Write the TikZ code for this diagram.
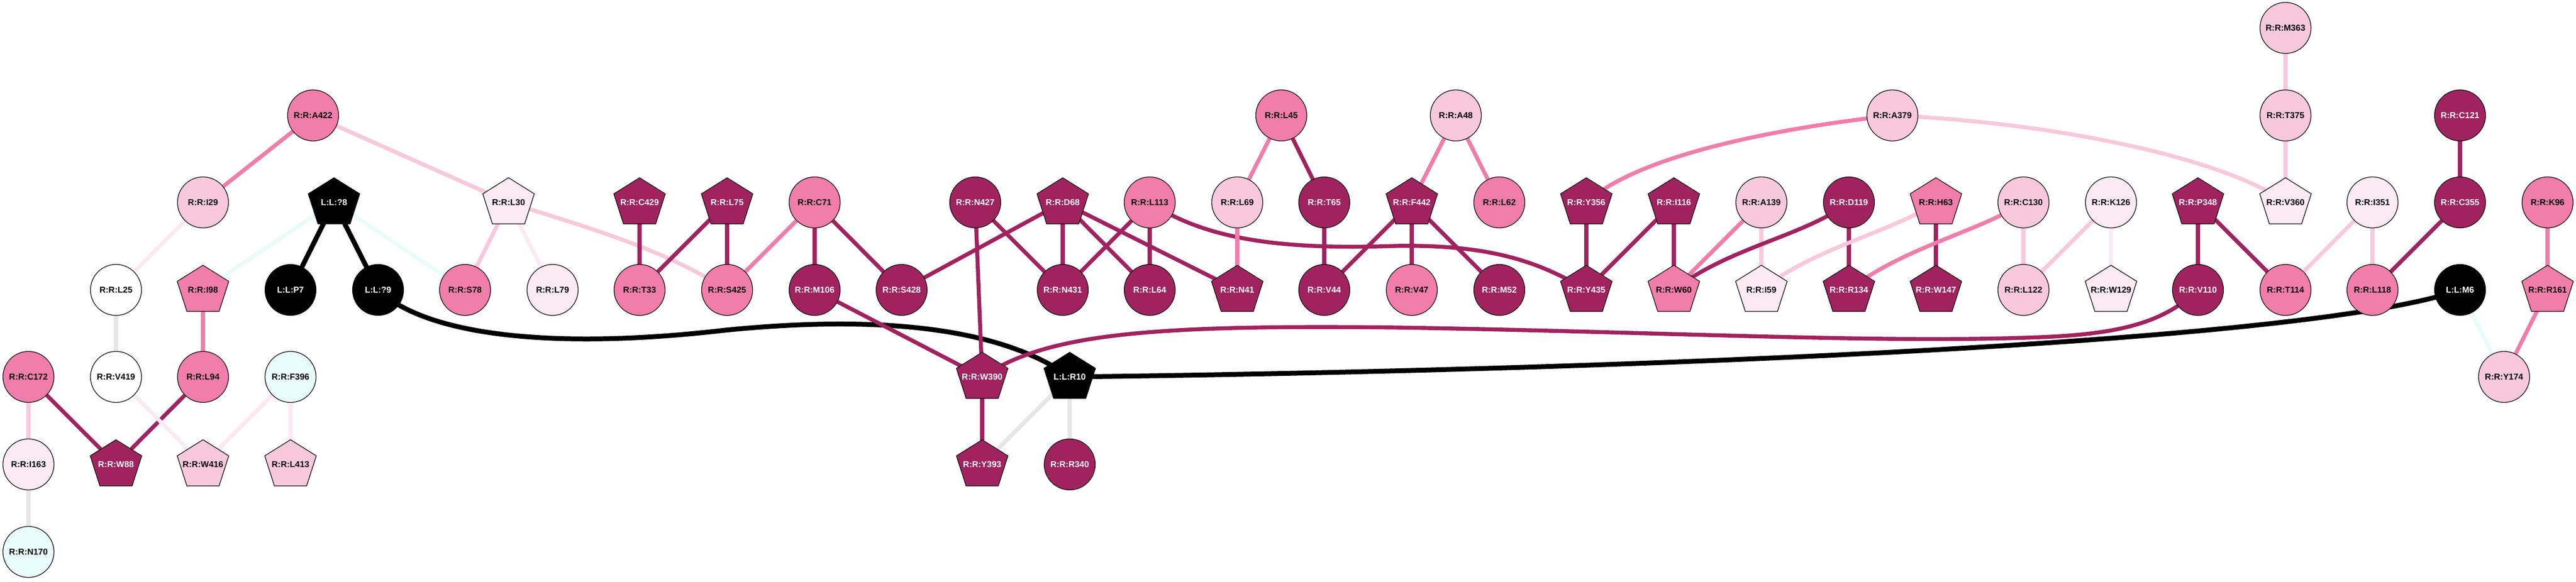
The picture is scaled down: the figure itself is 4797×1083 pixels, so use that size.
\documentclass[tikz,border=0pt]{standalone}
\usepackage{fontspec}
\setmainfont{Liberation Sans}
\pgfdeclarelayer{bk}
\pgfdeclarelayer{bg}
\pgfsetlayers{bk,bg,main}
\definecolor{cdark}{HTML}{A0235F}
\definecolor{cmed}{HTML}{F07DAA}
\definecolor{clight}{HTML}{F8C8DC}
\definecolor{cvlight}{HTML}{FBEAF2}
\definecolor{ccyan}{HTML}{E8FCFC}
\definecolor{cgrey}{HTML}{E6E6E6}
\tikzset{
  lblfont/.style={font=\bfseries\fontsize{8}{9}\selectfont},
  cnode/.style={circle, draw=black, line width=0.6pt, minimum size=47.5pt, inner sep=0pt, lblfont},
  plbl/.style={inner sep=0pt, lblfont},
  ebase/.style={line width=3.7pt},
  edk/.style={ebase, draw=cdark},
  emd/.style={ebase, draw=cmed},
  elt/.style={ebase, draw=clight},
  evl/.style={ebase, draw=cvlight},
  ecy/.style={ebase, draw=ccyan},
  egr/.style={ebase, draw=cgrey},
  ebk/.style={line width=4.5pt, draw=black},
}
\newcommand{\cnd}[6]{\node[cnode, fill=#4, text=#5] (#1) at (#2,#3) {#6};}
\newcommand{\pnd}[6]{\filldraw[shift={(#2,#3)}, fill=#4, draw=black, line width=0.6pt] (0,-46) -- (48,-16) -- (30,40) -- (-30,40) -- (-48,-16) -- cycle;
  \node[plbl, text=#5] (#1) at (#2,#3) {#6};}
\begin{document}
\begin{tikzpicture}[x=0.5pt, y=-0.5pt]
\begin{pgfonlayer}{bk}
\fill[white] (0,0) rectangle (4797,1083);
\end{pgfonlayer}
\useasboundingbox (0,0) rectangle (4797,1083);
% row 1
\cnd{M363}{4256}{52}{clight}{black}{R:R:M363}
% row 2
\cnd{A422}{583}{215}{cmed}{black}{R:R:A422}
\cnd{L45}{2386}{215}{cmed}{black}{R:R:L45}
\cnd{A48}{2711}{215}{clight}{black}{R:R:A48}
\cnd{A379}{3524}{215}{clight}{black}{R:R:A379}
\cnd{T375}{4256}{215}{clight}{black}{R:R:T375}
\cnd{C121}{4581}{215}{cdark}{white}{R:R:C121}
% row 3
\cnd{I29}{378}{377}{clight}{black}{R:R:I29}
\pnd{q8}{622}{377}{black}{white}{L:L:?8}
\pnd{L30}{947}{377}{cvlight}{black}{R:R:L30}
\pnd{C429}{1191}{377}{cdark}{white}{R:R:C429}
\pnd{L75}{1354}{377}{cdark}{white}{R:R:L75}
\cnd{C71}{1517}{377}{cmed}{black}{R:R:C71}
\cnd{N427}{1816}{377}{cdark}{white}{R:R:N427}
\pnd{D68}{1979}{377}{cdark}{white}{R:R:D68}
\cnd{L113}{2141}{377}{cmed}{black}{R:R:L113}
\cnd{L69}{2304}{377}{clight}{black}{R:R:L69}
\cnd{T65}{2466}{377}{cdark}{white}{R:R:T65}
\pnd{F442}{2629}{377}{cdark}{white}{R:R:F442}
\cnd{L62}{2792}{377}{cmed}{black}{R:R:L62}
\pnd{Y356}{2954}{377}{cdark}{white}{R:R:Y356}
\pnd{I116}{3117}{377}{cdark}{white}{R:R:I116}
\cnd{A139}{3280}{377}{clight}{black}{R:R:A139}
\cnd{D119}{3443}{377}{cdark}{white}{R:R:D119}
\pnd{H63}{3605}{377}{cmed}{black}{R:R:H63}
\cnd{C130}{3768}{377}{clight}{black}{R:R:C130}
\cnd{K126}{3931}{377}{cvlight}{black}{R:R:K126}
\pnd{P348}{4093}{377}{cdark}{white}{R:R:P348}
\pnd{V360}{4256}{377}{cvlight}{black}{R:R:V360}
\cnd{I351}{4418}{377}{cvlight}{black}{R:R:I351}
\cnd{C355}{4581}{377}{cdark}{white}{R:R:C355}
\cnd{K96}{4744}{377}{cmed}{black}{R:R:K96}
% row 4
\cnd{L25}{216}{540}{white}{black}{R:R:L25}
\pnd{I98}{378}{540}{cmed}{black}{R:R:I98}
\cnd{P7}{541}{540}{black}{white}{L:L:P7}
\cnd{q9}{704}{540}{black}{white}{L:L:?9}
\cnd{S78}{866}{540}{cmed}{black}{R:R:S78}
\cnd{L79}{1029}{540}{cvlight}{black}{R:R:L79}
\cnd{T33}{1191}{540}{cmed}{black}{R:R:T33}
\cnd{S425}{1354}{540}{cmed}{black}{R:R:S425}
\cnd{M106}{1517}{540}{cdark}{white}{R:R:M106}
\cnd{S428}{1679}{540}{cdark}{white}{R:R:S428}
\cnd{N431}{1979}{540}{cdark}{white}{R:R:N431}
\cnd{L64}{2141}{540}{cdark}{white}{R:R:L64}
\pnd{N41}{2304}{540}{cdark}{white}{R:R:N41}
\cnd{V44}{2466}{540}{cdark}{white}{R:R:V44}
\cnd{V47}{2629}{540}{cmed}{black}{R:R:V47}
\cnd{M52}{2792}{540}{cdark}{white}{R:R:M52}
\pnd{Y435}{2954}{540}{cdark}{white}{R:R:Y435}
\pnd{W60}{3117}{540}{cmed}{black}{R:R:W60}
\pnd{I59}{3280}{540}{cvlight}{black}{R:R:I59}
\pnd{R134}{3443}{540}{cdark}{white}{R:R:R134}
\pnd{W147}{3605}{540}{cdark}{white}{R:R:W147}
\cnd{L122}{3768}{540}{clight}{black}{R:R:L122}
\pnd{W129}{3931}{540}{cvlight}{black}{R:R:W129}
\cnd{V110}{4093}{540}{cdark}{white}{R:R:V110}
\cnd{T114}{4256}{540}{cmed}{black}{R:R:T114}
\cnd{L118}{4418}{540}{cmed}{black}{R:R:L118}
\cnd{M6}{4581}{540}{black}{white}{L:L:M6}
\pnd{R161}{4744}{540}{cmed}{black}{R:R:R161}
% row 5
\cnd{C172}{53}{702}{cmed}{black}{R:R:C172}
\cnd{V419}{216}{702}{white}{black}{R:R:V419}
\cnd{L94}{378}{702}{cmed}{black}{R:R:L94}
\cnd{F396}{541}{702}{ccyan}{black}{R:R:F396}
\pnd{W390}{1829}{702}{cdark}{white}{R:R:W390}
\pnd{R10}{1992}{702}{black}{white}{L:L:R10}
\cnd{Y174}{4663}{702}{clight}{black}{R:R:Y174}
% row 6
\cnd{I163}{53}{865}{cvlight}{black}{R:R:I163}
\pnd{W88}{216}{865}{cdark}{white}{R:R:W88}
\pnd{W416}{378}{865}{clight}{black}{R:R:W416}
\pnd{L413}{541}{865}{clight}{black}{R:R:L413}
\pnd{Y393}{1829}{865}{cdark}{white}{R:R:Y393}
\cnd{R340}{1992}{865}{cdark}{white}{R:R:R340}
% row 7
\cnd{N170}{53}{1028}{ccyan}{black}{R:R:N170}

\begin{pgfonlayer}{bg}
\draw[emd] (A422.center) -- (I29.center);
\draw[elt] (A422.center) -- (L30.center);
\draw[ebk] (q8.center) -- (P7.center);
\draw[ebk] (q8.center) -- (q9.center);
\draw[ecy] (q8.center) -- (I98.center);
\draw[ecy] (q8.center) -- (S78.center);
\draw[evl] (I29.center) -- (L25.center);
\draw[egr] (L25.center) -- (V419.center);
\draw[emd] (I98.center) -- (L94.center);
\draw[elt] (C172.center) -- (I163.center);
\draw[edk] (C172.center) -- (W88.center);
\draw[edk] (L94.center) -- (W88.center);
\draw[evl] (V419.center) -- (W416.center);
\draw[evl] (F396.center) -- (W416.center);
\draw[evl] (F396.center) -- (L413.center);
\draw[egr] (I163.center) -- (N170.center);
\draw[elt] (L30.center) -- (S78.center);
\draw[evl] (L30.center) -- (L79.center);
\draw[elt] (L30.center) .. controls (1080,420) and (1230,460) .. (S425.center);
\draw[ebk] (q9.center) .. controls (800,630) and (1050,650) .. (1350,615) .. controls (1600,590) and (1850,600) .. (R10.center);
\draw[edk] (C429.center) -- (T33.center);
\draw[edk] (L75.center) -- (T33.center);
\draw[edk] (L75.center) -- (S425.center);
\draw[emd] (C71.center) -- (S425.center);
\draw[edk] (C71.center) -- (M106.center);
\draw[edk] (C71.center) -- (S428.center);
\draw[edk] (M106.center) -- (W390.center);
\draw[edk] (N427.center) -- (W390.center);
\draw[edk] (N427.center) -- (N431.center);
\draw[edk] (D68.center) -- (S428.center);
\draw[edk] (D68.center) -- (N431.center);
\draw[edk] (D68.center) -- (L64.center);
\draw[edk] (D68.center) -- (N41.center);
\draw[edk] (L113.center) -- (N431.center);
\draw[edk] (L113.center) -- (L64.center);
\draw[edk] (L113.center) .. controls (2250,450) and (2400,465) .. (2600,458) .. controls (2780,455) and (2870,490) .. (Y435.center);
\draw[emd] (L45.center) -- (L69.center);
\draw[edk] (L45.center) -- (T65.center);
\draw[emd] (L69.center) -- (N41.center);
\draw[edk] (T65.center) -- (V44.center);
\draw[edk] (F442.center) -- (V44.center);
\draw[edk] (F442.center) -- (V47.center);
\draw[edk] (F442.center) -- (M52.center);
\draw[emd] (A48.center) -- (F442.center);
\draw[emd] (A48.center) -- (L62.center);
\draw[edk] (W390.center) -- (Y393.center);
\draw[edk] (W390.center) .. controls (1950,620) and (2150,605) .. (2600,610) .. controls (3100,618) and (3500,640) .. (3800,628) .. controls (3950,622) and (4030,600) .. (V110.center);
\draw[egr] (R10.center) -- (Y393.center);
\draw[egr] (R10.center) -- (R340.center);
\draw[ebk] (R10.center) .. controls (3000,690) and (4300,640) .. (M6.center);
\draw[emd] (A379.center) .. controls (3300,240) and (3050,290) .. (Y356.center);
\draw[elt] (A379.center) .. controls (3850,230) and (4150,300) .. (V360.center);
\draw[edk] (Y356.center) -- (Y435.center);
\draw[edk] (I116.center) -- (Y435.center);
\draw[edk] (I116.center) -- (W60.center);
\draw[emd] (A139.center) -- (W60.center);
\draw[elt] (A139.center) -- (I59.center);
\draw[edk] (D119.center) .. controls (3360,440) and (3220,460) .. (W60.center);
\draw[edk] (D119.center) -- (R134.center);
\draw[elt] (H63.center) .. controls (3530,430) and (3380,460) .. (I59.center);
\draw[edk] (H63.center) -- (W147.center);
\draw[emd] (C130.center) .. controls (3690,430) and (3545,460) .. (R134.center);
\draw[elt] (C130.center) -- (L122.center);
\draw[elt] (K126.center) -- (L122.center);
\draw[evl] (K126.center) -- (W129.center);
\draw[edk] (P348.center) -- (V110.center);
\draw[edk] (P348.center) -- (T114.center);
\draw[elt] (M363.center) -- (T375.center);
\draw[elt] (T375.center) -- (V360.center);
\draw[elt] (I351.center) -- (T114.center);
\draw[elt] (I351.center) -- (L118.center);
\draw[edk] (C121.center) -- (C355.center);
\draw[edk] (C355.center) -- (L118.center);
\draw[emd] (K96.center) -- (R161.center);
\draw[emd] (R161.center) -- (Y174.center);
\draw[ecy] (M6.center) -- (Y174.center);
\end{pgfonlayer}
\end{tikzpicture}
\end{document}
